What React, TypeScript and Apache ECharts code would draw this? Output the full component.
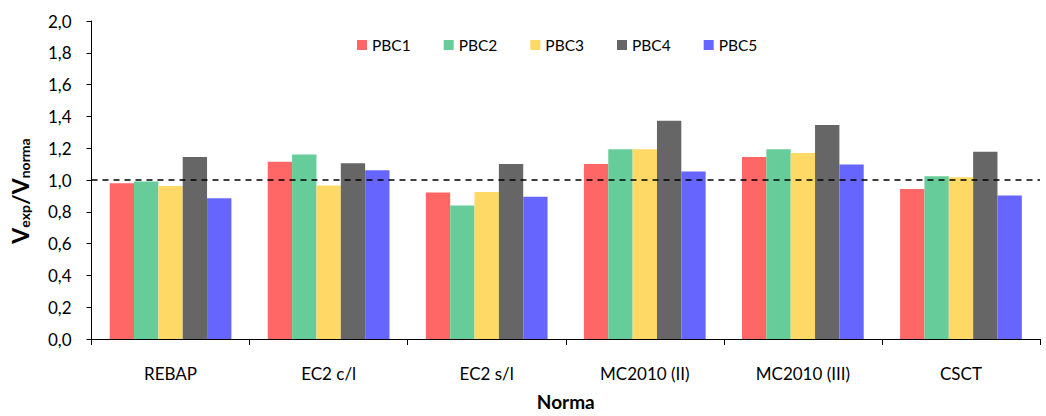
import React, { useEffect, useRef } from "react";
import * as echarts from "echarts";

const categories = ["REBAP", "EC2 c/l", "EC2 s/l", "MC2010 (II)", "MC2010 (III)", "CSCT"];
const seriesNames = ["PBC1", "PBC2", "PBC3", "PBC4", "PBC5"];
const pbc1 = [0.98, 1.114, 0.921, 1.101, 1.145, 0.944];
const pbc2 = [0.99, 1.161, 0.839, 1.193, 1.193, 1.023];
const pbc3 = [0.963, 0.965, 0.925, 1.193, 1.17, 1.017];
const pbc4 = [1.145, 1.106, 1.101, 1.373, 1.346, 1.178];
const pbc5 = [0.886, 1.062, 0.894, 1.054, 1.097, 0.902];
const colors = ["#FF6666", "#66CC99", "#FFD966", "#666666", "#6666FF"];
const referenceValue = 1.0;

export default function App() {
  const ref = useRef<HTMLDivElement>(null);
  useEffect(() => {
    const chart = echarts.init(ref.current!, null, { renderer: "svg" });
    const data = [pbc1, pbc2, pbc3, pbc4, pbc5];
    const font = "Lato, 'Open Sans', sans-serif";
    chart.setOption({
      animation: false,
      textStyle: { fontFamily: font },
      legend: {
        top: 37,
        left: 357,
        padding: 0,
        itemWidth: 10,
        itemHeight: 10,
        itemGap: 33,
        icon: "rect",
        textStyle: { fontSize: 15.5, color: "#000", fontFamily: font },
        data: seriesNames,
      },
      grid: { left: 88, right: 6, top: 21, bottom: 73 },
      xAxis: {
        type: "category",
        data: categories,
        name: "Norma",
        nameLocation: "middle",
        nameGap: 53,
        nameTextStyle: { fontSize: 19, fontWeight: "bold", color: "#000", fontFamily: font },
        axisLine: { lineStyle: { color: "#000", width: 1 } },
        axisTick: { show: true, length: 6, lineStyle: { color: "#000" } },
        axisLabel: { fontSize: 17, color: "#000", margin: 26, fontFamily: font },
      },
      yAxis: {
        type: "value",
        min: 0,
        max: 2,
        interval: 0.2,
        name: "{b|V}{s|exp}{b|/V}{s|norma}",
        nameLocation: "middle",
        nameGap: 60,
        nameRotate: 90,
        nameTextStyle: {
          padding: [0, 22, 0, 0],
          rich: {
            b: { fontSize: 23, fontWeight: "bold", color: "#000", fontFamily: font },
            s: { fontSize: 14, fontWeight: "bold", color: "#000", fontFamily: font, verticalAlign: "bottom", padding: [10, 0, 0, 0] },
          },
        },
        splitLine: { show: false },
        axisLine: { show: true, lineStyle: { color: "#000", width: 1 } },
        axisTick: { show: true, length: 5, lineStyle: { color: "#000" } },
        axisLabel: {
          fontSize: 17,
          color: "#000",
          margin: 20,
          fontFamily: font,
          formatter: (v: number) => v.toFixed(1).replace(".", ","),
        },
      },
      series: data.map((d, i) => ({
        name: seriesNames[i],
        type: "bar",
        data: d,
        barGap: "0%",
        barCategoryGap: "23%",
        itemStyle: { color: colors[i] },
        ...(i === 0
          ? {
              markLine: {
                silent: true,
                symbol: "none",
                label: { show: false },
                lineStyle: { color: "#000", type: [6, 5], width: 1.6 },
                data: [{ yAxis: referenceValue }],
              },
            }
          : {}),
      })),
    });
    return () => chart.dispose();
  }, []);
  return <div ref={ref} style={{ width: 1046, height: 416, position: "absolute", left: 0, top: 0 }} />;
}
